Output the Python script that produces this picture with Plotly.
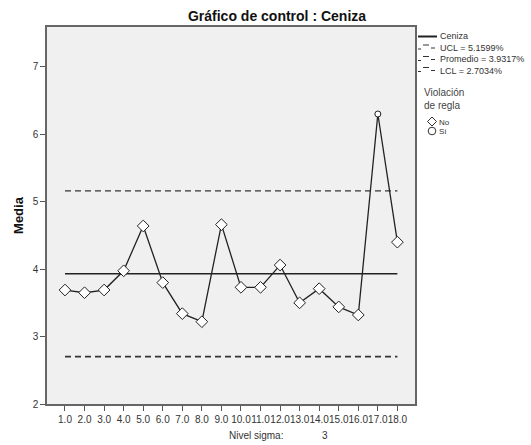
import plotly.graph_objects as go

# Data
subgroups = list(range(1, 19))
tick_labels = [f"{i}.0" for i in subgroups]
media = [3.69, 3.65, 3.69, 3.975, 4.64, 3.80, 3.34, 3.22, 4.66,
         3.73, 3.73, 4.06, 3.50, 3.71, 3.44, 3.32, 6.30, 4.40]
violation = [False] * 16 + [True, False]
ucl = 5.1599
promedio = 3.9317
lcl = 2.7034
series_name = "Ceniza"
legend_labels = [series_name, f"UCL = {ucl:.4f}%", f"Promedio = {promedio:.4f}%",
                 f"LCL = {lcl:.4f}%"]

FONT = "Liberation Sans, Arial, sans-serif"
W, H = 531, 445
L, R, T, B = 47, 116, 27, 41
PW, PH = W - L - R, H - T - B


def px(x):
    return (x - L) / PW


def py(y):
    return (H - B - y) / PH


fig = go.Figure()

fig.add_trace(go.Scatter(x=subgroups, y=[ucl] * len(subgroups), mode="lines",
                         line=dict(color="#333333", width=1.2, dash="6px,4px"),
                         showlegend=False))
fig.add_trace(go.Scatter(x=subgroups, y=[promedio] * len(subgroups), mode="lines",
                         line=dict(color="#222222", width=1.4), showlegend=False))
fig.add_trace(go.Scatter(x=subgroups, y=[lcl] * len(subgroups), mode="lines",
                         line=dict(color="#333333", width=1.7, dash="6px,4px"),
                         showlegend=False))
fig.add_trace(go.Scatter(x=subgroups, y=media, mode="lines",
                         line=dict(color="#222222", width=1.3), showlegend=False))

xs_no = [x for x, v in zip(subgroups, violation) if not v]
ys_no = [y for y, v in zip(media, violation) if not v]
xs_si = [x for x, v in zip(subgroups, violation) if v]
ys_si = [y for y, v in zip(media, violation) if v]

fig.add_trace(go.Scatter(x=xs_no, y=ys_no, mode="markers", showlegend=False,
                         marker=dict(symbol="diamond", size=9, color="white",
                                     line=dict(color="#222222", width=1))))
fig.add_trace(go.Scatter(x=xs_si, y=ys_si, mode="markers", showlegend=False,
                         marker=dict(symbol="circle", size=6, color="white",
                                     line=dict(color="#222222", width=1))))

shapes = []
annotations = []

# Manual legend (SPSS-style compact)
rows_y = [36.5, 48, 59.5, 70.5]
for i, (lab, yy) in enumerate(zip(legend_labels, rows_y)):
    if i == 0:
        shapes.append(dict(type="line", xref="paper", yref="paper",
                           x0=px(418), x1=px(437), y0=py(yy), y1=py(yy),
                           line=dict(color="#222222", width=2)))
    else:
        for (a, b, dy) in [(418, 421, 1), (423, 429, -3), (431, 435, 0)]:
            shapes.append(dict(type="line", xref="paper", yref="paper",
                               x0=px(a), x1=px(b), y0=py(yy + dy), y1=py(yy + dy),
                               line=dict(color="#333333", width=1)))
    annotations.append(dict(text=lab, xref="paper", yref="paper", x=px(438),
                            y=py(yy), xanchor="left", yanchor="middle",
                            showarrow=False,
                            font=dict(size=9, color="#333333")))

annotations.append(dict(text="Violación<br>de regla", xref="paper", yref="paper",
                        x=px(422), y=py(99), xanchor="left", yanchor="middle",
                        align="left", showarrow=False,
                        font=dict(size=10, color="#444444")))

# diamond symbol
cx, cy, r = 432, 121.5, 4.5
shapes.append(dict(type="path", xref="paper", yref="paper",
                   path=(f"M {px(cx)} {py(cy - r)} L {px(cx + r)} {py(cy)} "
                         f"L {px(cx)} {py(cy + r)} L {px(cx - r)} {py(cy)} Z"),
                   fillcolor="white", line=dict(color="#333333", width=1)))
annotations.append(dict(text="No", xref="paper", yref="paper", x=px(436.5),
                        y=py(123), xanchor="left", yanchor="middle",
                        showarrow=False, font=dict(size=8, color="#333333")))
cy2, r2 = 131, 3.8
shapes.append(dict(type="circle", xref="paper", yref="paper",
                   x0=px(cx - r2), x1=px(cx + r2), y0=py(cy2 + r2), y1=py(cy2 - r2),
                   fillcolor="white", line=dict(color="#333333", width=1)))
annotations.append(dict(text="Sí", xref="paper", yref="paper", x=px(436.5),
                        y=py(131.5), xanchor="left", yanchor="middle",
                        showarrow=False, font=dict(size=8, color="#333333")))

annotations.append(dict(text="Nivel sigma:", xref="paper", yref="paper",
                        x=px(227), y=py(435), xanchor="left", yanchor="middle",
                        showarrow=False, font=dict(size=10, color="#333333")))
annotations.append(dict(text="3", xref="paper", yref="paper",
                        x=px(325), y=py(435), xanchor="center", yanchor="middle",
                        showarrow=False, font=dict(size=10, color="#333333")))

fig.update_layout(
    width=W, height=H,
    margin=dict(l=L, r=R, t=T, b=B, autoexpand=False),
    paper_bgcolor="white",
    plot_bgcolor="#f0f0f0",
    font=dict(family=FONT, size=10, color="#333333"),
    title=dict(text="<b>Gráfico de control : Ceniza</b>", x=277 / W, xanchor="center",
               y=1 - 16 / H, yanchor="middle", font=dict(size=14, color="#111111")),
    showlegend=False,
    hovermode=False,
    shapes=shapes,
    annotations=annotations,
    xaxis=dict(range=[0.08, 18.9], tickmode="array", tickvals=subgroups,
               ticktext=tick_labels, tickangle=0, showgrid=False, zeroline=False,
               showline=True, linecolor="#666666", linewidth=1.5, mirror=True,
               ticks="outside", ticklen=5, tickcolor="#555555",
               tickfont=dict(size=10, color="#333333")),
    yaxis=dict(range=[2, 7.59], tickvals=[2, 3, 4, 5, 6, 7], showgrid=False,
               zeroline=False, showline=True, linecolor="#666666", linewidth=1.5,
               mirror=True, ticks="outside", ticklen=5, tickcolor="#555555",
               tickfont=dict(size=10, color="#333333"),
               title=dict(text="<b>Media</b>", font=dict(size=13, color="#111111"),
                          standoff=6)),
)

fig.write_html("out.html", config={"displayModeBar": False},
               post_script="document.body.style.margin='0';")
